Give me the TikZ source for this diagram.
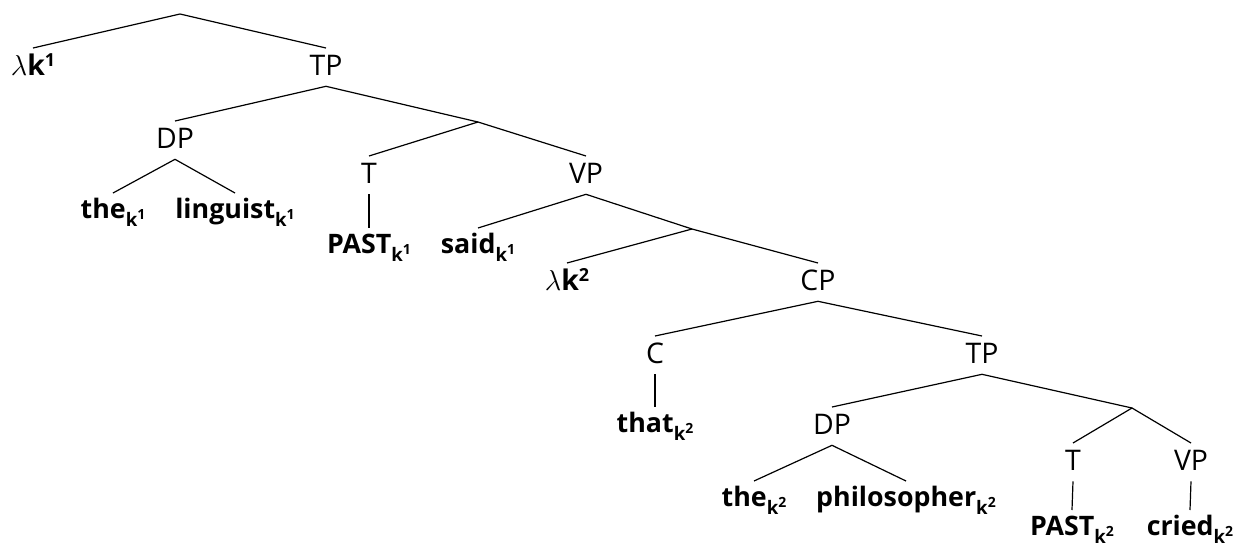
\documentclass[tikz,border=0pt]{standalone}
\usepackage{fontspec}
\setmainfont{Open Sans}
\newcommand{\kidx}[1]{\raisebox{-4pt}{\fontsize{9.3}{10}\selectfont\bfseries k\raisebox{3.5pt}{\fontsize{7}{8}\selectfont #1}}}
\newcommand{\lamk}[1]{$\lambda$\textbf{k}\raisebox{4.5pt}{\fontsize{9}{10}\selectfont\bfseries #1}}
\begin{document}
\begin{tikzpicture}[x=0.5pt,y=-0.5pt,
  cat/.style={anchor=north,inner sep=0pt,text height=13.5pt,text depth=5.25pt,font=\fontsize{14.2}{16}\selectfont},
  word/.style={anchor=north,inner sep=0pt,text height=12.5pt,text depth=3.5pt,font=\fontsize{13.4}{15}\selectfont\bfseries},
  branch/.style={draw,line width=0.6pt}]
\useasboundingbox (0,0) rectangle (1238,547);
% coordinates for unlabeled nodes
\coordinate (root) at (180,14);
\coordinate (bar1) at (478,122);
\coordinate (bar2) at (692,229);
\coordinate (bar3) at (1132,408);
% labeled nodes
\node[cat] (lk1) at (33,48) {\lamk{1}};
\node[cat] (tp1) at (326,48) {TP};
\node[cat] (dp1) at (175,121) {DP};
\node[word] (the1) at (113,193) {the\kidx{1}};
\node[word] (ling1) at (235,193) {linguist\kidx{1}};
\node[cat] (t1) at (369,156) {T};
\node[word] (past1) at (369,228) {PAST\kidx{1}};
\node[cat] (vp1) at (586,156) {VP};
\node[word] (said1) at (478,228) {said\kidx{1}};
\node[cat] (lk2) at (567,263) {\lamk{2}};
\node[cat] (cp) at (818,263) {CP};
\node[cat] (c) at (655,336) {C};
\node[word] (that2) at (655,407) {that\kidx{2}};
\node[cat] (tp2) at (982,336) {TP};
\node[cat] (dp2) at (832,407) {DP};
\node[word] (the2) at (754,481) {the\kidx{2}};
\node[word] (phil2) at (906,481) {philosopher\kidx{2}};
\node[cat] (t2) at (1073,443) {T};
\node[word] (past2) at (1072,510) {PAST\kidx{2}};
\node[cat] (vp2) at (1191,443) {VP};
\node[word] (cried2) at (1190,510) {cried\kidx{2}};
% branches
\path[branch] (lk1.north) -- (root) -- (tp1.north);
\path[branch] (dp1.north) -- (tp1.south) -- (bar1);
\path[branch] (the1.north) -- (dp1.south) -- (ling1.north);
\path[branch] (t1.north) -- (bar1) -- (vp1.north);
\path[branch] (t1.south) -- (past1.north);
\path[branch] (said1.north) -- (vp1.south) -- (bar2);
\path[branch] (lk2.north) -- (bar2) -- (cp.north);
\path[branch] (c.north) -- (cp.south) -- (tp2.north);
\path[branch] (c.south) -- (that2.north);
\path[branch] (dp2.north) -- (tp2.south) -- (bar3);
\path[branch] (the2.north) -- (dp2.south) -- (phil2.north);
\path[branch] (t2.north) -- (bar3) -- (vp2.north);
\path[branch] (t2.south) -- (past2.north);
\path[branch] (vp2.south) -- (cried2.north);
\end{tikzpicture}
\end{document}
